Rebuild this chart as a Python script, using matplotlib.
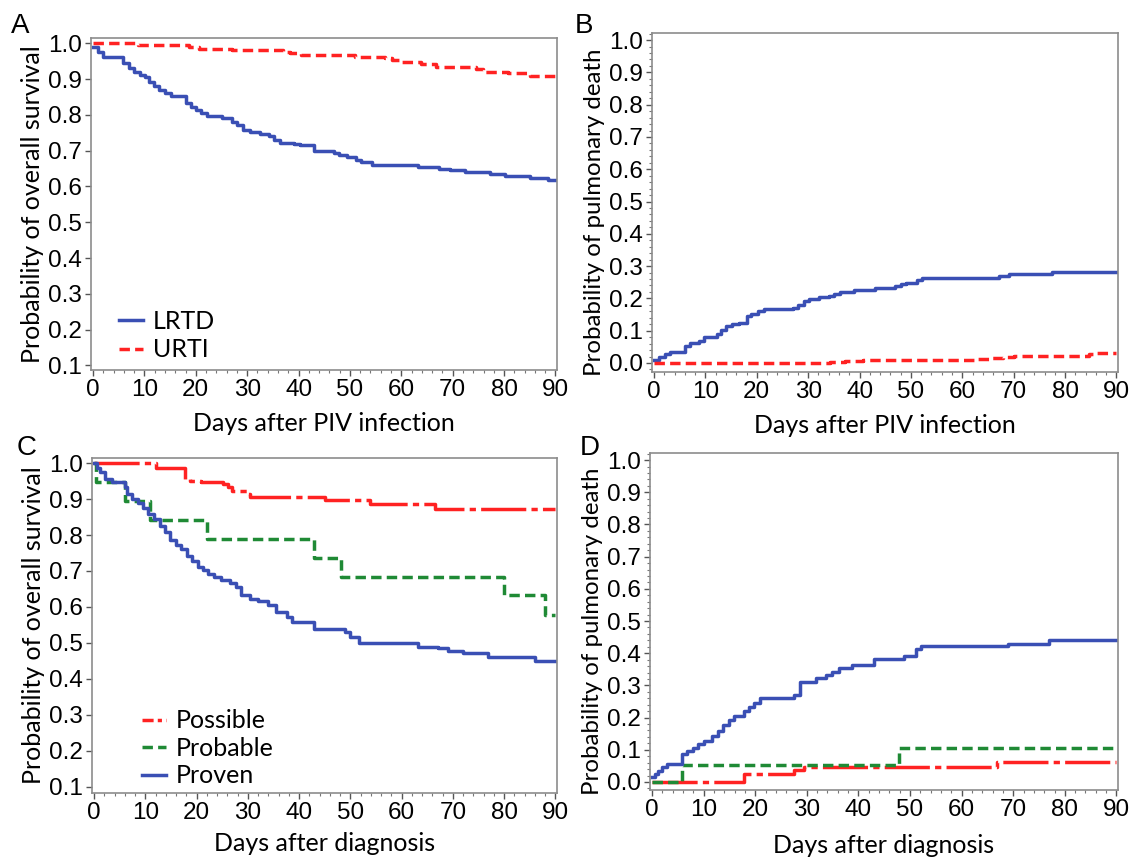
import matplotlib
matplotlib.use("Agg")
import matplotlib.pyplot as plt
from matplotlib.ticker import MultipleLocator

# ---- Panel A: overall survival by infection site ----
a_lrtd_t = [0, 0.9, 2.0, 5.9, 6.9, 8.0, 9.1, 10.1, 10.8, 11.9, 12.9, 14.0, 15.1, 18.0,
            19.0, 20.0, 21.1, 22.1, 25.0, 27.1, 28.1, 29.2, 30.6, 32.4, 34.2, 35.2,
            36.3, 39.1, 40.2, 43.0, 46.9, 47.9, 49.4, 51.1, 52.2, 54.3, 63.2, 67.4,
            69.5, 72.3, 77.3, 80.1, 85.1, 88.6, 90]
a_lrtd_s = [0.991, 0.977, 0.961, 0.944, 0.930, 0.921, 0.911, 0.905, 0.893, 0.881, 0.869,
            0.860, 0.854, 0.832, 0.823, 0.813, 0.804, 0.797, 0.790, 0.781, 0.771, 0.757,
            0.753, 0.748, 0.741, 0.729, 0.722, 0.718, 0.716, 0.700, 0.694, 0.688, 0.683,
            0.674, 0.667, 0.661, 0.655, 0.650, 0.646, 0.641, 0.634, 0.630, 0.625, 0.619,
            0.619]
a_urti_t = [0, 8.7, 18.6, 20.7, 27.0, 37.0, 38.4, 40.5, 51.0, 56.8, 58.2, 59.6, 63.9,
            66.7, 74.5, 75.9, 80.8, 85.1, 90]
a_urti_s = [1.0, 0.995, 0.991, 0.984, 0.981, 0.977, 0.972, 0.967, 0.963, 0.958, 0.954,
            0.949, 0.941, 0.935, 0.927, 0.921, 0.916, 0.910, 0.910]

# ---- Panel B: pulmonary death by infection site ----
b_lrtd_t = [0, 1.05, 2.1, 3.2, 6.0, 7.0, 8.8, 9.8, 12.3, 13.0, 14.0, 15.1, 16.5, 18.1,
            18.9, 20.3, 21.4, 27.0, 28.0, 29.1, 30.1, 32.2, 34.0, 35.0, 36.1, 38.9,
            43.1, 46.9, 48.0, 49.0, 51.1, 52.2, 67.2, 69.0, 77.4, 90]
b_lrtd_p = [0.010, 0.017, 0.028, 0.035, 0.053, 0.061, 0.069, 0.080, 0.090, 0.103, 0.113,
            0.120, 0.125, 0.146, 0.151, 0.161, 0.167, 0.171, 0.179, 0.192, 0.198, 0.205,
            0.208, 0.215, 0.220, 0.225, 0.233, 0.239, 0.244, 0.249, 0.256, 0.264, 0.269,
            0.274, 0.281, 0.281]
b_urti_t = [0, 34.3, 37.1, 40.6, 63.0, 65.8, 67.9, 70.0, 74.2, 84.7, 85.4, 90]
b_urti_p = [0.001, 0.004, 0.007, 0.009, 0.012, 0.015, 0.017, 0.021, 0.023, 0.028, 0.031,
            0.031]

# ---- Panel C: overall survival by diagnosis category ----
c_poss_t = [0, 12.0, 17.7, 18.8, 20.9, 25.2, 26.2, 27.0, 29.8, 30.5, 45.0, 53.9, 66.6, 90]
c_poss_s = [1.0, 0.985, 0.956, 0.951, 0.948, 0.942, 0.933, 0.923, 0.914, 0.907, 0.898,
            0.886, 0.871, 0.871]
c_prob_t = [0, 0.3, 6.0, 11.0, 22.0, 42.9, 48.1, 79.9, 87.9, 90]
c_prob_s = [1.0, 0.947, 0.895, 0.842, 0.789, 0.737, 0.684, 0.632, 0.579, 0.579]
c_prov_t = [0, 0.6, 1.1, 2.1, 3.5, 6.0, 6.4, 7.4, 8.5, 9.6, 10.6, 11.7, 12.8, 13.8, 14.9,
            15.9, 17.0, 18.1, 19.1, 20.2, 21.3, 22.3, 23.4, 24.8, 26.6, 27.6, 28.7, 30.5,
            31.9, 34.0, 35.4, 37.6, 38.6, 42.9, 48.9, 50.0, 51.7, 63.1, 67.0, 69.1, 71.9,
            76.9, 86.1, 90]
c_prov_s = [1.0, 0.985, 0.974, 0.956, 0.946, 0.933, 0.914, 0.900, 0.888, 0.875, 0.859,
            0.845, 0.826, 0.808, 0.785, 0.771, 0.762, 0.743, 0.729, 0.711, 0.702, 0.691,
            0.683, 0.676, 0.667, 0.656, 0.632, 0.623, 0.617, 0.605, 0.586, 0.572, 0.559,
            0.540, 0.531, 0.517, 0.500, 0.489, 0.485, 0.478, 0.471, 0.460, 0.451, 0.451]

# ---- Panel D: pulmonary death by diagnosis category ----
d_poss_t = [0, 17.8, 27.5, 29.5, 66.9, 90]
d_poss_p = [0.0, 0.024, 0.036, 0.048, 0.061, 0.061]
d_prob_t = [0, 5.8, 47.9, 90]
d_prob_p = [0.0, 0.053, 0.105, 0.105]
d_prov_t = [0, 0.5, 1.2, 1.9, 2.9, 5.8, 6.8, 7.9, 8.9, 10.0, 11.7, 12.8, 13.8, 14.9, 15.9,
            17.9, 18.8, 19.8, 20.9, 27.5, 28.6, 31.7, 33.8, 34.9, 36.3, 38.8, 43.0, 48.9,
            51.1, 52.1, 69.0, 77.0, 90]
d_prov_p = [0.015, 0.024, 0.034, 0.046, 0.057, 0.087, 0.096, 0.106, 0.118, 0.128, 0.142,
            0.157, 0.178, 0.193, 0.205, 0.219, 0.234, 0.245, 0.260, 0.270, 0.311, 0.322,
            0.332, 0.342, 0.355, 0.363, 0.381, 0.392, 0.412, 0.421, 0.430, 0.440, 0.440]

BLUE = '#3a4fb4'
RED = '#ff2222'
GREEN = '#1f8a35'
LW = 2.5
TICK_FONT = 'Liberation Sans'
LABEL_FONT = 'Lato'
TICK_SIZE = 17.5
LABEL_SIZE = 18

ST_SOLID = '-'
ST_DASH = (0, (3.0, 1.5))
ST_LONG = (0, (13, 1.5, 1.8, 1.5))
ST_LONG_LEG = (0, (3.2, 1.2, 1.2, 1.2))  # shorter pattern so the legend sample shows it

fig = plt.figure(figsize=(11.29, 8.59), dpi=100)
W, H = 1129.0, 859.0


def make_ax(l, t, r, b):
    return fig.add_axes([l / W, 1 - b / H, (r - l) / W, (b - t) / H])


def style_ax(ax, ylim, yticks, ylabel, xlabel, ymin_minor=None, ylab_size=LABEL_SIZE):
    ax.set_xlim(-0.4, 90.3)
    ax.set_ylim(*ylim)
    ax.set_xticks(range(0, 91, 10))
    ax.xaxis.set_minor_locator(MultipleLocator(2))
    ax.set_yticks(yticks)
    ax.set_yticklabels([f'{v:.1f}' for v in yticks])
    if ymin_minor:
        ax.yaxis.set_minor_locator(MultipleLocator(ymin_minor))
    for s in ax.spines.values():
        s.set_color('#8c8c8c')
        s.set_linewidth(1.2)
    ax.tick_params(axis='both', which='major', length=4, width=1, color='#555555',
                   labelsize=TICK_SIZE, pad=2.5)
    ax.tick_params(axis='both', which='minor', length=2.5, width=0.8, color='#777777')
    for lab in ax.get_xticklabels() + ax.get_yticklabels():
        lab.set_fontfamily(TICK_FONT)
    ax.set_ylabel(ylabel, fontsize=ylab_size, family=LABEL_FONT, labelpad=3)
    ax.set_xlabel(xlabel, fontsize=LABEL_SIZE, family=LABEL_FONT, labelpad=8)


# A
axA = make_ax(91, 38, 557, 370)
axA.step(a_lrtd_t, a_lrtd_s, where='post', color=BLUE, lw=LW, ls=ST_SOLID, label='LRTD')
axA.step(a_urti_t, a_urti_s, where='post', color=RED, lw=LW, ls=ST_DASH, label='URTI')
style_ax(axA, (0.087, 1.015), [i / 10 for i in range(1, 11)],
         'Probability of overall survival', 'Days after PIV infection')
axA.legend(loc='lower left', bbox_to_anchor=(0.012, -0.042), frameon=False,
           prop={'family': LABEL_FONT, 'size': LABEL_SIZE}, handlelength=0.95,
           handletextpad=0.4, labelspacing=0.22)

# B
axB = make_ax(652, 33, 1118, 372)
axB.step(b_lrtd_t, b_lrtd_p, where='post', color=BLUE, lw=LW, ls=ST_SOLID)
axB.step(b_urti_t, b_urti_p, where='post', color=RED, lw=LW, ls=ST_DASH)
style_ax(axB, (-0.028, 1.022), [i / 10 for i in range(0, 11)],
         'Probability of pulmonary death', 'Days after PIV infection', ymin_minor=0.02,
         ylab_size=17.3)
axB.yaxis.label.set_y(0.47)

# C
axC = make_ax(92, 458, 557, 793)
axC.step(c_poss_t, c_poss_s, where='post', color=RED, lw=LW, ls=ST_LONG)
axC.step(c_prob_t, c_prob_s, where='post', color=GREEN, lw=LW, ls=ST_DASH)
axC.step(c_prov_t, c_prov_s, where='post', color=BLUE, lw=LW, ls=ST_SOLID)
style_ax(axC, (0.083, 1.014), [i / 10 for i in range(1, 11)],
         'Probability of overall survival', 'Days after diagnosis')
axC.xaxis.labelpad = 6
leg_handles = [plt.Line2D([], [], color=RED, lw=LW, ls=ST_LONG_LEG),
               plt.Line2D([], [], color=GREEN, lw=LW, ls=ST_DASH),
               plt.Line2D([], [], color=BLUE, lw=LW, ls=ST_SOLID)]
axC.legend(leg_handles, ['Possible', 'Probable', 'Proven'],
           loc='lower left', bbox_to_anchor=(0.06, -0.05), frameon=False,
           prop={'family': LABEL_FONT, 'size': LABEL_SIZE}, handlelength=0.95,
           handletextpad=0.4, labelspacing=0.18)

# D
axD = make_ax(650, 453, 1118, 790)
axD.step(d_poss_t, d_poss_p, where='post', color=RED, lw=LW, ls=ST_LONG)
axD.step(d_prob_t, d_prob_p, where='post', color=GREEN, lw=LW, ls=ST_DASH)
axD.step(d_prov_t, d_prov_p, where='post', color=BLUE, lw=LW, ls=ST_SOLID)
style_ax(axD, (-0.025, 1.022), [i / 10 for i in range(0, 11)],
         'Probability of pulmonary death', 'Days after diagnosis', ymin_minor=0.02,
         ylab_size=17.3)
axD.yaxis.label.set_y(0.47)
axD.xaxis.labelpad = 9

# panel letters
for letter, x, y in [('A', 11, 33), ('B', 575, 33), ('C', 17, 455), ('D', 580, 455)]:
    fig.text(x / W, 1 - y / H, letter, fontsize=20, family=TICK_FONT, ha='left', va='baseline')

fig.savefig('out.png', dpi=100)
